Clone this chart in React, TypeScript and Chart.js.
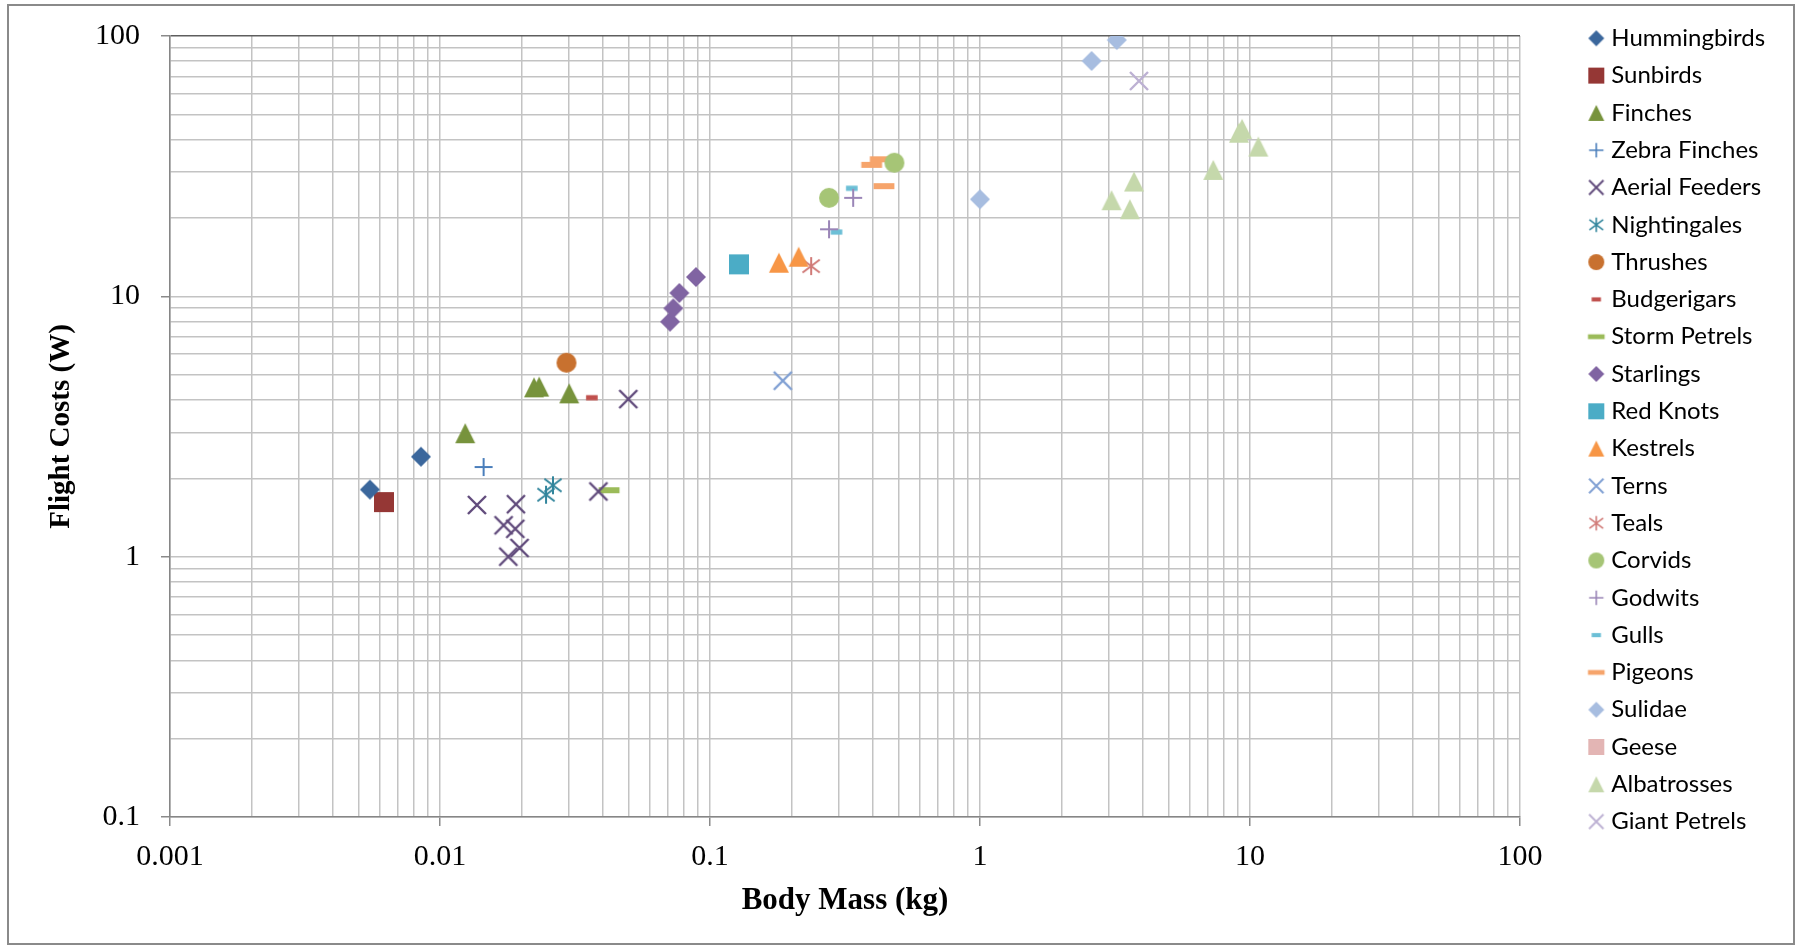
import { useEffect, useRef } from "react";
import { Chart, registerables } from "chart.js";

Chart.register(...registerables);

// ---------- data: [body mass (kg), flight cost (W)] ----------
const HUMMINGBIRDS = [[0.0055, 1.81], [0.0085, 2.42]];
const SUNBIRDS = [[0.0062, 1.62]];
const FINCHES = [[0.0124, 2.98], [0.0223, 4.47], [0.0233, 4.5], [0.0301, 4.24]];
const ZEBRA_FINCHES = [[0.0145, 2.21]];
const AERIAL_FEEDERS = [
  [0.0137, 1.58], [0.0191, 1.59], [0.0172, 1.32], [0.019, 1.28],
  [0.0179, 1.0], [0.0197, 1.08], [0.0498, 4.03], [0.0386, 1.78],
];
const NIGHTINGALES = [[0.0247, 1.73], [0.0262, 1.88]];
const THRUSHES = [[0.0294, 5.56]];
const BUDGERIGARS = [[0.0365, 4.08]];
const STORM_PETRELS = [[0.0423, 1.8]];
const STARLINGS = [[0.0711, 7.99], [0.0731, 8.99], [0.077, 10.3], [0.0887, 11.86]];
const RED_KNOTS = [[0.128, 13.27]];
const KESTRELS = [[0.18, 13.46], [0.213, 14.2]];
const TERNS = [[0.186, 4.74]];
const TEALS = [[0.237, 13.07]];
const CORVIDS = [[0.276, 23.9], [0.482, 32.6]];
const GODWITS = [[0.339, 23.9], [0.276, 18.1]];
const GULLS = [[0.335, 26.0], [0.294, 17.66]];
const PIGEONS = [[0.397, 32.0], [0.427, 33.6], [0.441, 26.5]];
const SULIDAE = [[1.0, 23.6], [3.21, 96.5], [2.59, 80.2]];
const GEESE: number[][] = [];
const ALBATROSSES = [
  [3.07, 23.4], [3.59, 21.6], [3.72, 27.6], [7.31, 30.6],
  [9.1, 42.5], [9.35, 44.0], [10.74, 37.6],
];
const GIANT_PETRELS = [[3.88, 67.2]];

const SERIES_NAMES = [
  "Hummingbirds", "Sunbirds", "Finches", "Zebra Finches", "Aerial Feeders",
  "Nightingales", "Thrushes", "Budgerigars", "Storm Petrels", "Starlings",
  "Red Knots", "Kestrels", "Terns", "Teals", "Corvids", "Godwits", "Gulls",
  "Pigeons", "Sulidae", "Geese", "Albatrosses", "Giant Petrels",
];
const SERIES_DATA = [
  HUMMINGBIRDS, SUNBIRDS, FINCHES, ZEBRA_FINCHES, AERIAL_FEEDERS,
  NIGHTINGALES, THRUSHES, BUDGERIGARS, STORM_PETRELS, STARLINGS,
  RED_KNOTS, KESTRELS, TERNS, TEALS, CORVIDS, GODWITS, GULLS,
  PIGEONS, SULIDAE, GEESE, ALBATROSSES, GIANT_PETRELS,
];

// axis ticks
const X_MAJOR = [0.001, 0.01, 0.1, 1, 10, 100];
const Y_MAJOR = [0.1, 1, 10, 100];
const MINOR_STEPS = [2, 3, 4, 5, 6, 7, 8, 9];

// ---------- styles ----------
type Shape =
  | "diamond" | "square" | "triangle" | "plus" | "cross" | "star"
  | "circle" | "shortDash" | "longDash";

const SERIES_SHAPES: Shape[] = [
  "diamond", "square", "triangle", "plus", "cross", "star", "circle",
  "shortDash", "longDash", "diamond", "square", "triangle", "cross", "star",
  "circle", "plus", "shortDash", "longDash", "diamond", "square", "triangle",
  "cross",
];
const SERIES_COLORS = [
  "#3B679C", "#953735", "#77933C", "#4A7EBB", "#604A7B", "#31859C",
  "#C8712F", "#C0504D", "#9BBB59", "#8064A2", "#4BACC6", "#F79646",
  "#7F9FD3", "#D07A77", "#A6C576", "#9A85B7", "#6CBFD6", "#F6A46B",
  "#A7BDE0", "#E3B5B4", "#C5D8AB", "#BDB1D3",
];

function drawShape(
  g: CanvasRenderingContext2D, shape: Shape, color: string,
  cx: number, cy: number, s: number,
) {
  const h = s / 2;
  g.fillStyle = color;
  g.strokeStyle = color;
  g.lineCap = "butt";
  switch (shape) {
    case "diamond":
      g.beginPath();
      g.moveTo(cx, cy - h); g.lineTo(cx + h, cy); g.lineTo(cx, cy + h); g.lineTo(cx - h, cy);
      g.closePath(); g.fill();
      break;
    case "square":
      g.fillRect(cx - h, cy - h, s, s);
      break;
    case "triangle":
      g.beginPath();
      g.moveTo(cx, cy - h); g.lineTo(cx + h, cy + h); g.lineTo(cx - h, cy + h);
      g.closePath(); g.fill();
      break;
    case "circle":
      g.beginPath(); g.arc(cx, cy, h, 0, Math.PI * 2); g.fill();
      break;
    case "plus": {
      const a = s * 0.45;
      g.lineWidth = Math.max(1.3, s * 0.1);
      g.beginPath();
      g.moveTo(cx - a, cy); g.lineTo(cx + a, cy);
      g.moveTo(cx, cy - a); g.lineTo(cx, cy + a);
      g.stroke();
      break;
    }
    case "cross": {
      const a = s * 0.45;
      g.lineWidth = Math.max(1.4, s * 0.12);
      g.beginPath();
      g.moveTo(cx - a, cy - a); g.lineTo(cx + a, cy + a);
      g.moveTo(cx + a, cy - a); g.lineTo(cx - a, cy + a);
      g.stroke();
      break;
    }
    case "star": {
      const a = s * 0.43;
      g.lineWidth = Math.max(1.3, s * 0.1);
      g.beginPath();
      g.moveTo(cx - a, cy - a * 0.75); g.lineTo(cx + a, cy + a * 0.75);
      g.moveTo(cx + a, cy - a * 0.75); g.lineTo(cx - a, cy + a * 0.75);
      g.moveTo(cx, cy - a * 1.05); g.lineTo(cx, cy + a * 1.05);
      g.stroke();
      break;
    }
    case "shortDash":
      g.fillRect(cx - s * 0.29, cy - s * 0.13, s * 0.58, s * 0.26);
      break;
    case "longDash":
      g.fillRect(cx - s * 0.52, cy - s * 0.15, s * 1.04, s * 0.3);
      break;
  }
}

function makeMarker(shape: Shape, color: string, s: number, offsetX = 0) {
  const half = Math.ceil(s * 0.7);
  const c = document.createElement("canvas");
  c.width = 2 * (half + Math.abs(offsetX));
  c.height = 2 * half;
  const g = c.getContext("2d")!;
  drawShape(g, shape, color, c.width / 2 + offsetX, c.height / 2, s);
  return c;
}

// layout constants
const CANVAS_W = 1799;
const CANVAS_H = 949;
const PLOT_LEFT = 170;
const PLOT_TOP = 36;
const PLOT_RIGHT_MARGIN = 279;
const PLOT_BOTTOM_MARGIN = 132;
const LEGEND_FONT = 24;
const LEGEND_PAD = 13.3;
const LEGEND_BOX_W = 66;
const LEGEND_MARKER_SHIFT = 30;

const SERIF = "'Liberation Serif', 'Times New Roman', serif";

function buildTicks(majors: number[]) {
  const ticks: { value: number; major: boolean }[] = [];
  majors.forEach((m, i) => {
    ticks.push({ value: m, major: true });
    if (i < majors.length - 1) {
      MINOR_STEPS.forEach((k) => ticks.push({ value: +(k * m).toPrecision(6), major: false }));
    }
  });
  return ticks;
}

export default function App() {
  const ref = useRef<HTMLCanvasElement>(null);

  useEffect(() => {
    const canvas = ref.current;
    if (!canvas) return;

    const plotMarkers = SERIES_SHAPES.map((sh, i) => makeMarker(sh, SERIES_COLORS[i], 20));
    const legendMarkers = SERIES_SHAPES.map((sh, i) =>
      makeMarker(sh, SERIES_COLORS[i], 16, LEGEND_MARKER_SHIFT),
    );

    const datasets = SERIES_NAMES.map((name, i) => ({
      label: name,
      data: SERIES_DATA[i].map(([x, y]) => ({ x, y })),
      pointStyle: plotMarkers[i] as any,
      pointRadius: 10,
      pointHoverRadius: 10,
      showLine: false,
      backgroundColor: SERIES_COLORS[i],
      borderColor: SERIES_COLORS[i],
    }));

    const chart = new Chart(canvas, {
      type: "scatter",
      data: { datasets },
      options: {
        responsive: false,
        animation: false,
        events: [],
        layout: { padding: { top: 13, left: 0, right: 0, bottom: 0 } },
        plugins: {
          tooltip: { enabled: false },
          legend: {
            position: "right",
            align: "start",
            maxWidth: PLOT_RIGHT_MARGIN,
            labels: {
              usePointStyle: true,
              pointStyleWidth: LEGEND_BOX_W,
              padding: LEGEND_PAD,
              color: "#000",
              font: { family: "Lato, 'Open Sans', sans-serif", size: LEGEND_FONT },
              generateLabels: (ch: any) => {
                const items = (Chart.defaults.plugins.legend.labels as any).generateLabels(ch);
                return items.map((it: any, i: number) => ({
                  ...it,
                  pointStyle: legendMarkers[i],
                  fontColor: "#000",
                  rotation: 0,
                }));
              },
            },
          },
        },
        scales: {
          x: {
            type: "logarithmic",
            min: 0.001,
            max: 100,
            afterBuildTicks: (scale: any) => { scale.ticks = buildTicks(X_MAJOR); },
            afterFit: (scale: any) => {
              scale.height = PLOT_BOTTOM_MARGIN;
              scale.paddingRight = PLOT_RIGHT_MARGIN;
            },
            grid: {
              color: "#c3c3c3",
              lineWidth: 1.5,
              tickLength: 9,
              tickWidth: 1.5,
              tickColor: (c: any) => (c.tick && c.tick.major ? "#8a8a8a" : "rgba(0,0,0,0)"),
            },
            border: { color: "#868686", width: 1.5 },
            ticks: {
              autoSkip: false,
              maxRotation: 0,
              padding: 13,
              color: "#000",
              font: { family: SERIF, size: 30 },
              callback: (v: any, i: number, ticks: any[]) => (ticks[i].major ? String(v) : ""),
            },
            title: {
              display: true,
              text: "Body Mass (kg)",
              color: "#000",
              font: { family: SERIF, size: 31, weight: "bold" },
              padding: { top: 0, bottom: 29 },
            },
          },
          y: {
            type: "logarithmic",
            min: 0.1,
            max: 100,
            afterBuildTicks: (scale: any) => { scale.ticks = buildTicks(Y_MAJOR); },
            afterFit: (scale: any) => {
              scale.width = PLOT_LEFT;
              scale.paddingTop = PLOT_TOP;
            },
            grid: {
              color: (c: any) => (c.tick && c.tick.value === 100 ? "#5e5e5e" : "#c3c3c3"),
              lineWidth: 1.5,
              tickLength: 9,
              tickWidth: 1.5,
              tickColor: (c: any) => (c.tick && c.tick.major ? "#8a8a8a" : "rgba(0,0,0,0)"),
            },
            border: { color: "#868686", width: 1.5 },
            ticks: {
              autoSkip: false,
              padding: 21,
              color: "#000",
              font: { family: SERIF, size: 30 },
              callback: (v: any, i: number, ticks: any[]) => (ticks[i].major ? String(v) : ""),
            },
            title: {
              display: true,
              text: "Flight Costs (W)",
              color: "#000",
              font: { family: SERIF, size: 29, weight: "bold" },
              padding: { top: 44, bottom: 0 },
            },
          },
        },
      } as any,
    });

    return () => chart.destroy();
  }, []);

  return (
    <div
      style={{
        position: "fixed", left: 0, top: 0, width: CANVAS_W, height: CANVAS_H,
        background: "#fff", overflow: "hidden",
      }}
    >
      <canvas
        ref={ref}
        width={CANVAS_W}
        height={CANVAS_H}
        style={{ position: "absolute", left: 0, top: 0, width: CANVAS_W, height: CANVAS_H }}
      />
      <div
        style={{
          position: "absolute", left: 7, top: 4, width: 1788, height: 941,
          border: "2px solid #8a8a8a", boxSizing: "border-box", pointerEvents: "none",
        }}
      />
    </div>
  );
}
